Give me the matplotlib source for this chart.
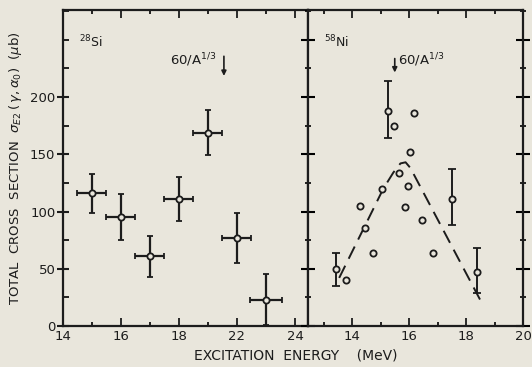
import numpy as np
import matplotlib.pyplot as plt
from matplotlib.ticker import MultipleLocator, FixedLocator

# =====================================================
# DATA
# =====================================================

# 28Si panel
si_energy = [15, 16, 17, 18, 19, 20, 21]
si_sigma = [116, 95, 61, 111, 169, 77, 23]
si_sigma_err = [17, 20, 18, 19, 20, 22, 22]
si_energy_err = [0.5, 0.5, 0.5, 0.5, 0.5, 0.5, 0.55]
si_tick_pos = [14, 16, 18, 20, 22]
si_tick_labels = ["14", "16", "18", "22", "24"]

# 58Ni panel, plain points
ni_energy = [13.79, 14.28, 14.47, 14.72, 15.07, 15.49, 15.65,
             15.86, 15.97, 16.03, 16.18, 16.46, 16.84]
ni_sigma = [40, 105, 86, 64, 120, 175, 134,
            104, 122, 152, 186, 93, 64]

# 58Ni panel, points with error bars
ni_err_energy = [13.44, 15.28, 17.5, 18.37]
ni_err_sigma = [50, 188, 111, 47]
ni_err_low = [15, 24, 23, 18]
ni_err_high = [14, 26, 26, 21]

# dashed curve through the Ni data
curve_energy = [13.55, 15.1, 15.45, 15.7, 15.88, 16.05, 18.6]
curve_sigma = [42, 120, 134, 142, 143, 138, 18]

bg = "#e9e6dc"
ink = "#1c1c1c"

plt.rcParams["font.family"] = "DejaVu Sans"

fig = plt.figure(figsize=(5.32, 3.67), dpi=100, facecolor=bg)

ax1 = fig.add_axes([63 / 532, 41 / 367, 245 / 532, 316 / 367], facecolor=bg)
ax2 = fig.add_axes([308 / 532, 41 / 367, 215 / 532, 316 / 367], facecolor=bg)

# =====================================================
# LEFT PANEL: 28Si
# =====================================================

ax1.errorbar(
    si_energy, si_sigma,
    yerr=si_sigma_err, xerr=si_energy_err,
    fmt="o", ms=4.5, mfc=bg, mec=ink, mew=1.3,
    ecolor=ink, elinewidth=1.6, capsize=2.5, capthick=1.6
)

ax1.set_xlim(14, 22.45)
ax1.set_ylim(0, 276)

ax1.xaxis.set_major_locator(FixedLocator(si_tick_pos))
ax1.set_xticklabels(si_tick_labels)
ax1.xaxis.set_minor_locator(MultipleLocator(1))
ax1.yaxis.set_minor_locator(MultipleLocator(25))
ax1.set_yticks([0, 50, 100, 150, 200])

ax1.tick_params(axis="x", which="major", direction="in", length=6, width=1.3,
                top=True, labelsize=9.5, colors=ink, pad=3)
ax1.tick_params(axis="x", which="minor", direction="in", length=3, width=1.2,
                top=True)
ax1.tick_params(axis="y", which="major", direction="inout", length=9, width=1.5,
                right=False, labelsize=9.5, colors=ink, pad=1)
ax1.tick_params(axis="y", which="minor", direction="in", length=4, width=1.2,
                right=False)

ax1.text(14.55, 243, r"$^{28}$Si", fontsize=9, color=ink)
ax1.text(17.7, 228, r"60/A$^{1/3}$", fontsize=9.5, color=ink)
ax1.annotate("", xy=(19.55, 216), xytext=(19.55, 238),
             arrowprops=dict(arrowstyle="-|>", color=ink, lw=1.2,
                             mutation_scale=7))

ax1.set_ylabel(r"TOTAL  CROSS  SECTION  $\sigma_{E2}\,(\,\gamma,\alpha_0)$  ($\mu$b)",
               fontsize=9.5, color=ink, labelpad=4)

# =====================================================
# RIGHT PANEL: 58Ni
# =====================================================

ax2.plot(curve_energy, curve_sigma, color=ink, lw=1.4, dashes=(7, 4))

ax2.plot(ni_energy, ni_sigma, "o", ms=4.5, mfc=bg, mec=ink, mew=1.3,
         linestyle="none")

ax2.errorbar(
    ni_err_energy, ni_err_sigma,
    yerr=[ni_err_low, ni_err_high],
    fmt="o", ms=4.5, mfc=bg, mec=ink, mew=1.3,
    ecolor=ink, elinewidth=1.4, capsize=3, capthick=1.4
)

ax2.set_xlim(12.456, 20)
ax2.set_ylim(0, 276)

ax2.xaxis.set_major_locator(FixedLocator([14, 16, 18, 20]))
ax2.xaxis.set_minor_locator(MultipleLocator(1))
ax2.yaxis.set_major_locator(MultipleLocator(50))
ax2.yaxis.set_minor_locator(MultipleLocator(25))

ax2.tick_params(axis="x", which="major", direction="in", length=6, width=1.3,
                top=True, labelsize=9.5, colors=ink, pad=3)
ax2.tick_params(axis="x", which="minor", direction="in", length=3, width=1.2,
                top=True)
ax2.tick_params(axis="y", which="major", direction="inout", length=10, width=1.5,
                left=True, right=True, labelleft=False)
ax2.tick_params(axis="y", which="minor", direction="inout", length=5, width=1.2,
                left=True, right=True)

ax2.text(13.0, 243, r"$^{58}$Ni", fontsize=9, color=ink)
ax2.text(15.6, 228, r"60/A$^{1/3}$", fontsize=9.5, color=ink)
ax2.annotate("", xy=(15.5, 219), xytext=(15.5, 236),
             arrowprops=dict(arrowstyle="-|>", color=ink, lw=1.2,
                             mutation_scale=7))

for ax in (ax1, ax2):
    for s in ax.spines.values():
        s.set_linewidth(1.6)
        s.set_color(ink)

fig.text(0.555, 0.02, "EXCITATION  ENERGY    (MeV)", ha="center",
         fontsize=10, color=ink)

fig.savefig("out.png", dpi=100, facecolor=bg)
